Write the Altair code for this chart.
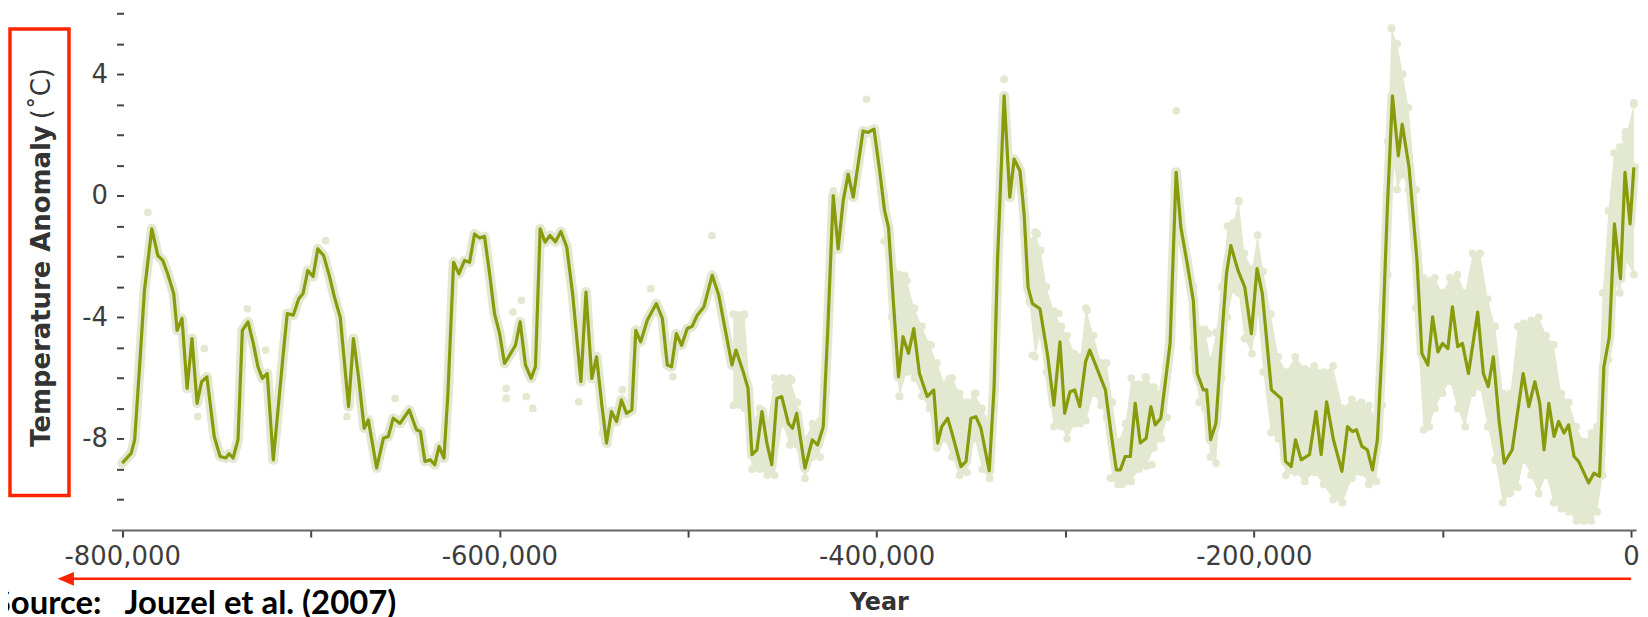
import altair as alt
import pandas as pd

# ---------------- data ----------------
line_year = [
    -800000, -795200, -793400, -790800, -788200, -784300, -781100, -778500, -775900, -772700,
    -770900, -768300, -765600, -763000, -760300, -757900, -755100, -751200, -748100, -745100,
    -743300, -741200, -738600, -736300, -733300, -730500, -728000, -725700, -723100, -719900,
    -716900, -714600, -712500, -709300, -706400, -704100, -701600, -698800, -696300, -693200,
    -690000, -687500, -684400, -680000, -677400, -674700, -671700, -669500, -665100, -661500,
    -658900, -656300, -652700, -647800, -644000, -641900, -639500, -636600, -634300, -632000,
    -629400, -627300, -624300, -621500, -618500, -615800, -613200, -610500, -607900, -605200,
    -602600, -599900, -597300, -594600, -591500, -589000, -586200, -583200, -580900, -578400,
    -575800, -573200, -570300, -567400, -564300, -561200, -556800, -554100, -551000, -548500,
    -545700, -543200, -540600, -537900, -535300, -532600, -529800, -527700, -525100, -521600,
    -516800, -513600, -511000, -508700, -506200, -503400, -500400, -497800, -495100, -491600,
    -487200, -483700, -480200, -476700, -474600, -471000, -468200, -466100, -463500, -460800,
    -458200, -455600, -452900, -450300, -446800, -444600, -442400, -438000, -434100, -431300,
    -428300, -426000, -423000, -420400, -417700, -415100, -412400, -407200, -404500, -401400,
    -398400, -395800, -393700, -391300, -388400, -386000, -383100, -380300, -377300, -373200,
    -369700, -367600, -365500, -362300, -359100, -355300, -352600, -350000, -347400, -344700,
    -340300, -337700, -335900, -332400, -329400, -327100, -324000, -321800, -319700, -317400,
    -313400, -309500, -306000, -302800, -300300, -297500, -295000, -292300, -289200, -287000,
    -283500, -278700, -275700, -272900, -270800, -268200, -265500, -262900, -260200, -257100,
    -254600, -252300, -249300, -244400, -241200, -238700, -235600, -232100, -230000, -226800,
    -225000, -222900, -220100, -217100, -214500, -212200, -208400, -204800, -201300, -198300,
    -195500, -190700, -185500, -183200, -180200, -177900, -174900, -170500, -167000, -164300,
    -161400, -157800, -153300, -150300, -147700, -145600, -142700, -139800, -137100, -134500,
    -131800, -129200, -126500, -123400, -121300, -117700, -113500, -110900, -107700, -105200,
    -102400, -100000, -97100, -94700, -91900, -89400, -86200, -81300, -78300, -75700,
    -73000, -70000, -67200, -63000, -57200, -54200, -51000, -48400, -46100, -43600,
    -40800, -38400, -35500, -33100, -30200, -27800, -22500, -19700, -16700, -14400,
    -11500, -8800, -5600, -3200, -500, 1500,
]
line_temp = [
    -8.8, -8.47, -8.03, -5.63, -3.11, -1.09, -1.97, -2.13, -2.57, -3.22,
    -4.43, -4.04, -6.34, -4.70, -6.83, -6.12, -5.96, -7.92, -8.58, -8.63,
    -8.49, -8.63, -8.03, -4.43, -4.15, -4.86, -5.63, -6.01, -5.85, -8.69,
    -6.72, -5.19, -3.88, -3.93, -3.39, -3.22, -2.46, -2.66, -1.75, -1.97,
    -2.68, -3.33, -4.0, -6.94, -4.70, -5.96, -7.65, -7.38, -8.96, -7.98,
    -7.92, -7.32, -7.49, -7.05, -7.70, -7.76, -8.74, -8.69, -8.85, -8.25,
    -8.63, -6.50, -2.19, -2.57, -2.13, -2.19, -1.26, -1.39, -1.34, -2.57,
    -3.88, -4.54, -5.52, -5.25, -4.92, -4.15, -5.57, -6.01, -5.63, -1.09,
    -1.53, -1.31, -1.52, -1.18, -1.69, -3.22, -6.12, -3.17, -6.01, -5.30,
    -6.89, -8.14, -7.10, -7.43, -6.72, -7.16, -7.05, -4.43, -4.81, -4.10,
    -3.55, -4.04, -5.57, -5.63, -4.54, -4.92, -4.37, -4.30, -3.93, -3.66,
    -2.62, -3.28, -4.43, -5.57, -5.08, -5.74, -6.34, -8.52, -8.36, -7.10,
    -8.14, -8.85, -6.67, -6.61, -7.49, -7.65, -7.16, -8.96, -8.03, -8.20,
    -7.60, -4.54, 0.0, -1.75, -0.16, 0.71, -0.05, 2.13, 2.08, 2.19,
    0.82, -0.49, -1.04, -3.33, -5.96, -4.64, -5.19, -4.37, -5.85, -6.61,
    -6.39, -8.14, -7.60, -7.32, -8.03, -8.91, -8.74, -7.32, -7.27, -7.65,
    -9.05, -6.28, -2.13, 3.28, -0.05, 1.20, 0.82, -0.60, -3.01, -3.55,
    -3.72, -5.19, -6.89, -4.81, -7.16, -6.45, -6.39, -6.94, -5.46, -5.08,
    -5.63, -6.39, -7.81, -9.02, -9.02, -8.58, -8.58, -6.83, -8.14, -7.98,
    -6.94, -7.54, -7.32, -4.86, 0.77, -1.04, -2.13, -3.44, -5.85, -6.39,
    -6.39, -8.03, -7.49, -4.75, -2.57, -1.64, -2.46, -3.01, -4.54, -2.40,
    -3.22, -6.39, -6.67, -8.74, -8.91, -8.03, -8.69, -8.52, -7.10, -8.52,
    -6.78, -8.03, -9.07, -7.60, -7.76, -7.70, -8.25, -8.36, -9.02, -8.03,
    -4.75, -0.38, 3.28, 1.31, 2.35, 0.93, -2.13, -5.19, -5.57, -3.99,
    -5.14, -4.86, -5.03, -3.66, -4.97, -4.86, -5.85, -3.83, -5.85, -6.28,
    -5.30, -7.38, -8.80, -8.36, -5.85, -6.94, -6.12, -6.83, -8.36, -6.83,
    -7.92, -7.43, -7.81, -7.54, -8.58, -8.74, -9.45, -9.13, -9.23, -5.63,
    -4.64, -0.93, -2.73, 0.77, -0.93, 0.93,
]

# scattered single measurements standing away from the smoothed curve
dot_year = [
    -786400, -756500, -760000, -733600, -723900, -692200, -680800, -655300, -596400, -596400,
    -592800, -588400, -585800, -582300, -558000, -545300, -534800, -519800, -508000, -487300,
    -473200, -470500, -473200, -453800, -445000, -423000, -405400, -385100, -385100, -379900,
    -371100, -387800, -361500, -347400, -332400, -317400, -314800, -303400, -288400, -278700,
    -254100, -257600, -241100, -224200, -269900, -276100, -208000, -127000, -3000, 1500,
]
dot_temp = [
    -0.55, -5.03, -7.27, -3.72, -5.08, -1.48, -7.27, -6.67, -6.34, -6.67,
    -3.83, -3.44, -6.61, -7.0, -6.78, -7.81, -6.39, -3.06, -5.96, -1.31,
    -3.93, -3.93, -6.89, -6.28, -6.07, 0.16, 3.17, -2.62, -3.22, -3.72,
    -4.92, -6.61, -6.01, -6.5, 3.83, -5.25, -1.26, -3.88, -3.77, -5.52,
    -8.85, -5.96, 2.79, -4.54, -9.5, -9.29, -0.16, 5.5, 2.1, 3.06,
]

# upper / lower edge of the wide cloud of measurements (four stretches)
band_seg = (["D"] * 12) + (["A"] * 15) + (["B"] * 23) + (["C"] * 64)
band_year = [
    -476000, -470000, -466000, -462000, -458000, -454000, -450000, -446000, -442000, -438000, -434000, -430000,
    -396000, -392000, -388000, -384000, -380000, -376000, -372000, -368000, -364000, -360000, -356000, -352000,
    -348000, -344000, -340000,
    -322000, -319000, -316000, -313000, -310000, -306000, -302000, -299000, -295000, -292000, -289000, -285000,
    -281000, -278000, -275000, -272000, -268000, -265000, -261000, -257000, -253000, -249000, -246000,
    -232000, -229000, -226000, -223000, -220000, -217000, -214000, -211000, -208000, -205000, -201000, -198000,
    -195000, -191000, -187000, -183000, -178000, -173000, -168000, -163000, -158000, -153000, -148000, -143000,
    -139000, -135000, -132000, -129000, -127000, -124000, -121000, -118000, -114000, -110000, -107000, -104000,
    -100000, -96000, -92000, -88000, -84000, -80000, -76000, -72000, -68000, -64000, -60000, -57000,
    -53000, -49000, -45000, -41000, -37000, -33000, -29000, -25000, -21000, -18000, -15000, -12000,
    -9000, -6000, -3000, 1500,
]
band_hi = [
    -3.9, -3.9, -7.5, -7.0, -7.5, -6.0, -6.0, -6.0, -6.8, -8.0, -7.5, -7.4,
    0.0, -2.0, -2.6, -2.8, -3.7, -4.3, -4.9, -5.5, -6.2, -6.0, -6.5, -6.8,
    -6.5, -7.0, -7.5,
    0.2, -1.5, -1.2, -1.8, -3.0, -3.8, -4.3, -4.6, -5.2, -5.3, -3.7, -4.6,
    -5.5, -5.5, -6.8, -8.1, -7.5, -6.0, -6.2, -6.0, -6.3, -6.5, -5.8,
    -3.0, -4.4, -4.4, -5.4, -4.5, -3.0, -1.0, -0.9, -0.2, -1.9, -2.4, -1.3,
    -2.5, -3.9, -5.3, -5.8, -5.3, -5.7, -5.6, -5.8, -5.6, -7.0, -6.7, -6.8,
    -6.9, -7.4, -3.7, 1.8, 5.5, 5.0, 4.0, 2.9, 0.2, -2.7, -2.8, -2.7,
    -3.2, -2.7, -2.6, -3.2, -1.9, -1.9, -3.4, -4.3, -6.5, -6.5, -4.3, -4.2,
    -4.1, -4.0, -4.6, -4.9, -6.5, -6.8, -7.6, -8.1, -7.8, -7.6, -3.2, -0.5,
    1.4, 1.6, 1.9, 3.0,
]
band_lo = [
    -6.9, -7.0, -9.0, -9.0, -9.2, -9.2, -7.5, -8.2, -8.2, -9.3, -8.6, -8.6,
    -1.5, -4.0, -6.6, -5.8, -6.0, -6.6, -7.0, -8.3, -8.0, -8.6, -9.2, -9.1,
    -8.0, -9.0, -9.3,
    -1.0, -3.5, -5.3, -4.5, -5.8, -7.6, -7.6, -8.0, -7.5, -7.5, -7.4, -6.5,
    -6.9, -7.3, -9.3, -9.5, -9.4, -9.4, -9.0, -8.9, -8.3, -8.0, -7.3,
    -5.0, -6.8, -7.0, -8.6, -8.8, -6.0, -4.0, -3.1, -3.2, -4.7, -5.2, -3.7,
    -5.8, -7.8, -8.0, -9.2, -9.1, -9.4, -9.1, -9.5, -10.0, -10.1, -9.3, -9.1,
    -9.5, -9.4, -6.9, -2.6, 1.8, 0.2, 0.7, 0.2, -3.7, -7.7, -7.6, -7.0,
    -6.5, -6.1, -7.0, -7.6, -6.5, -6.3, -7.6, -8.7, -10.1, -9.8, -9.6, -8.7,
    -9.2, -9.8, -9.2, -10.1, -10.3, -10.4, -10.7, -10.7, -10.7, -10.4, -9.2, -5.4,
    -2.7, -3.2, -2.1, -2.6,
]

x_ticks = list(range(-800000, 1, 100000))
y_ticks = list(range(-10, 7))

y_title_main = ["Temperature Anomaly"]
y_title_unit = ["(˚C)"]
x_title = ["Year"]
source_note = ["Source:\u00a0\u00a0\u00a0Jouzel et al. (2007)"]

# ---------------- styling ----------------
OLIVE = "#899a0c"
LIGHT = "#e3e8d0"
RED = "#ff2400"
W, H = 1531, 523

line_df = pd.DataFrame({"year": line_year, "temp": line_temp})
dot_df = pd.DataFrame({"year": dot_year, "temp": dot_temp})
band_df = pd.DataFrame({"seg": band_seg, "year": band_year, "hi": band_hi, "lo": band_lo})

x_scale = alt.Scale(domain=[-805650, 2640], nice=False, zero=False)
y_scale = alt.Scale(domain=[-11.0, 6.13], nice=False, zero=False)

x_axis = alt.Axis(
    title=None, values=x_ticks, grid=False,
    labelExpr="datum.value % 200000 == 0 ? (datum.value < 0 ? '-' + format(-datum.value, ',') : format(datum.value, ',')) : ''",
    labelFont="DejaVu Sans", labelFontSize=26, labelColor="#3d3d3d", labelPadding=7,
    labelOverlap=False, labelFlush=False,
    tickSize=7, tickWidth=2, tickColor="#444444",
    domainColor="#666666", domainWidth=2,
)
y_axis = alt.Axis(
    title=None, values=y_ticks, grid=False, domain=False, offset=-12,
    labelExpr="datum.value % 4 == 0 ? (datum.value < 0 ? '-' + format(-datum.value, 'd') : format(datum.value, 'd')) : ''",
    labelFont="DejaVu Sans", labelFontSize=26, labelColor="#3d3d3d", labelPadding=9,
    labelOverlap=False, labelFlush=False,
    tickSize=7, tickWidth=2, tickColor="#444444",
)


def X(field):
    return alt.X(f"{field}:Q", scale=x_scale, axis=x_axis)


def Y(field):
    return alt.Y(f"{field}:Q", scale=y_scale, axis=y_axis)


band = alt.Chart(band_df).mark_area(color=LIGHT, opacity=1).encode(
    x=X("year"), y=Y("hi"), y2="lo:Q", detail="seg:N"
)
band_edges = alt.Chart(band_df).transform_fold(["hi", "lo"], as_=["edge", "temp"]).mark_circle(
    color=LIGHT, opacity=1, size=60
).encode(x=X("year"), y=Y("temp"))
dots = alt.Chart(dot_df).mark_circle(color=LIGHT, opacity=1, size=60).encode(
    x=X("year"), y=Y("temp")
)
halo_pts = alt.Chart(line_df).mark_circle(color=LIGHT, opacity=1, size=70).encode(
    x=X("year"), y=Y("temp")
)
halo = alt.Chart(line_df).mark_line(
    color=LIGHT, strokeWidth=10, strokeCap="round", strokeJoin="round"
).encode(x=X("year"), y=Y("temp"), order="year:Q")
curve = alt.Chart(line_df).mark_line(
    color=OLIVE, strokeWidth=3.2, strokeJoin="round"
).encode(x=X("year"), y=Y("temp"), order="year:Q")

# ---------------- annotations ----------------
ytitle_a = alt.Chart(pd.DataFrame({"t": y_title_main})).mark_text(
    font="DejaVu Sans", fontSize=26, fontWeight="bold", color="#333333",
    angle=270, align="right", baseline="alphabetic",
).encode(text="t:N", x=alt.value(-62), y=alt.value(116.5))
ytitle_b = alt.Chart(pd.DataFrame({"t": y_title_unit})).mark_text(
    font="DejaVu Sans", fontSize=26, color="#333333",
    angle=270, align="left", baseline="alphabetic",
).encode(text="t:N", x=alt.value(-62), y=alt.value(110.5))
xtitle = alt.Chart(pd.DataFrame({"t": x_title})).mark_text(
    font="DejaVu Sans", fontSize=24, fontWeight="bold", color="#333333",
    align="center", baseline="alphabetic",
).encode(text="t:N", x=alt.value(771), y=alt.value(603))
source = alt.Chart(pd.DataFrame({"t": source_note})).mark_text(
    font="Lato", fontSize=33, fontWeight="bold", color="#000000",
    align="right", baseline="alphabetic",
).encode(text="t:N", x=alt.value(286), y=alt.value(607))

arrow_line = alt.Chart(pd.DataFrame({"k": [0]})).mark_rule(color=RED, strokeWidth=2.5).encode(
    x=alt.value(-40), x2=alt.value(1526), y=alt.value(572)
)
arrow_head = alt.Chart(pd.DataFrame({"k": [0]})).mark_point(
    shape="M -1 0 L 1 -0.85 L 1 0.85 Z", filled=True, color=RED, opacity=1, size=270, strokeWidth=0
).encode(x=alt.value(-46), y=alt.value(572))
red_box = alt.Chart(pd.DataFrame({"k": [0]})).mark_rect(
    fillOpacity=0, stroke=RED, strokeWidth=3.5
).encode(x=alt.value(-102), x2=alt.value(-42.75), y=alt.value(19.75), y2=alt.value(488.25))

chart = alt.layer(
    band, band_edges, dots, halo_pts, halo, curve,
    ytitle_a, ytitle_b, xtitle, source, arrow_line, arrow_head, red_box,
).properties(
    width=W, height=H,
    padding={"left": 104, "top": 0, "right": 4, "bottom": 86},
    autosize=alt.AutoSizeParams(type="none"),
    background="white",
).configure_view(strokeWidth=0)

chart.save("out.html", embed_options={"renderer": "svg", "actions": False})
